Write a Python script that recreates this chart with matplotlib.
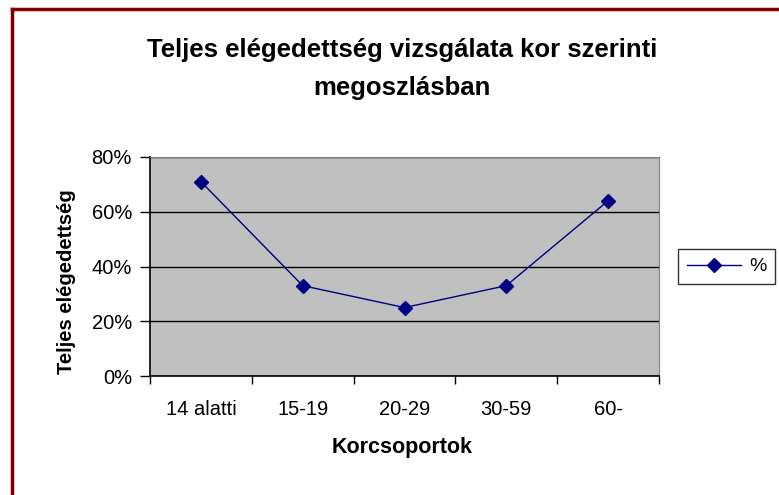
import matplotlib.pyplot as plt
from matplotlib.lines import Line2D
from matplotlib.ticker import FuncFormatter

plt.rcParams['font.family'] = ['Liberation Sans', 'DejaVu Sans']

# Adatok: korcsoportok és a teljes elégedettség aránya (%)
korcsoportok = ["14 alatti", "15-19", "20-29", "30-59", "60-"]
elegedettseg = [71, 33, 25, 33, 64]
y_tickek = [0, 20, 40, 60, 80]

W, H = 779, 495
fig = plt.figure(figsize=(W / 100, H / 100), dpi=100)

# Rajzterület pixelben: x 150-659, y 157-376
ax = fig.add_axes([150 / W, 1 - 376 / H, 509 / W, 219 / H])
ax.set_facecolor("#c0c0c0")

x = list(range(len(korcsoportok)))
ax.plot(x, elegedettseg, color="#000080", linewidth=1, marker="D",
        markersize=7.5, markerfacecolor="#000080", markeredgecolor="#000080",
        label="%", zorder=3)

ax.set_xlim(-0.5, len(korcsoportok) - 0.5)
ax.set_ylim(0, 80)
ax.set_yticks(y_tickek)
ax.yaxis.set_major_formatter(FuncFormatter(lambda v, p: f"{v:.0f}%"))
ax.grid(axis="y", color="black", linewidth=1)
ax.set_axisbelow(True)

ax.set_xticks(x)
ax.set_xticklabels(korcsoportok)
ax.set_xticks([i - 0.5 for i in range(len(korcsoportok) + 1)], minor=True)
ax.tick_params(axis="x", which="major", length=0, pad=17, labelsize=14.5)
ax.tick_params(axis="x", which="minor", length=6, width=1, direction="out")
ax.tick_params(axis="y", length=7, width=1, direction="out", pad=6, labelsize=14.5)

for s in ["top", "right"]:
    ax.spines[s].set_color("#808080")
for s in ["left", "bottom"]:
    ax.spines[s].set_color("black")
    ax.spines[s].set_linewidth(1.2)

# Feliratok
fig.text(402 / W, 1 - 50 / H, "Teljes elégedettség vizsgálata kor szerinti",
         ha="center", va="center", fontsize=18.5, fontweight="bold")
fig.text(402 / W, 1 - 88 / H, "megoszlásban",
         ha="center", va="center", fontsize=18.5, fontweight="bold")
fig.text(402 / W, 1 - 448 / H, "Korcsoportok", ha="center", va="center",
         fontsize=15.5, fontweight="bold")
fig.text(66 / W, 1 - 282 / H, "Teljes elégedettség", ha="center", va="center",
         rotation=90, fontsize=14.5, fontweight="bold")

# Jelmagyarázat
leg = fig.legend(loc="center left", bbox_to_anchor=(678 / W, 1 - 266.5 / H),
                 frameon=True, fancybox=False, edgecolor="black",
                 fontsize=14, handlelength=2.8, borderpad=0.45,
                 handletextpad=0.4, borderaxespad=0)
leg.get_frame().set_linewidth(1)

# Sötétvörös keret bal oldalt és felül
fig.add_artist(Line2D([12 / W, 12 / W], [0, 1 - 9 / H], color="#800000",
                      linewidth=2.5, transform=fig.transFigure))
fig.add_artist(Line2D([12 / W, 1], [1 - 9 / H, 1 - 9 / H], color="#800000",
                      linewidth=2.5, transform=fig.transFigure))

fig.savefig("out.png", dpi=100)
